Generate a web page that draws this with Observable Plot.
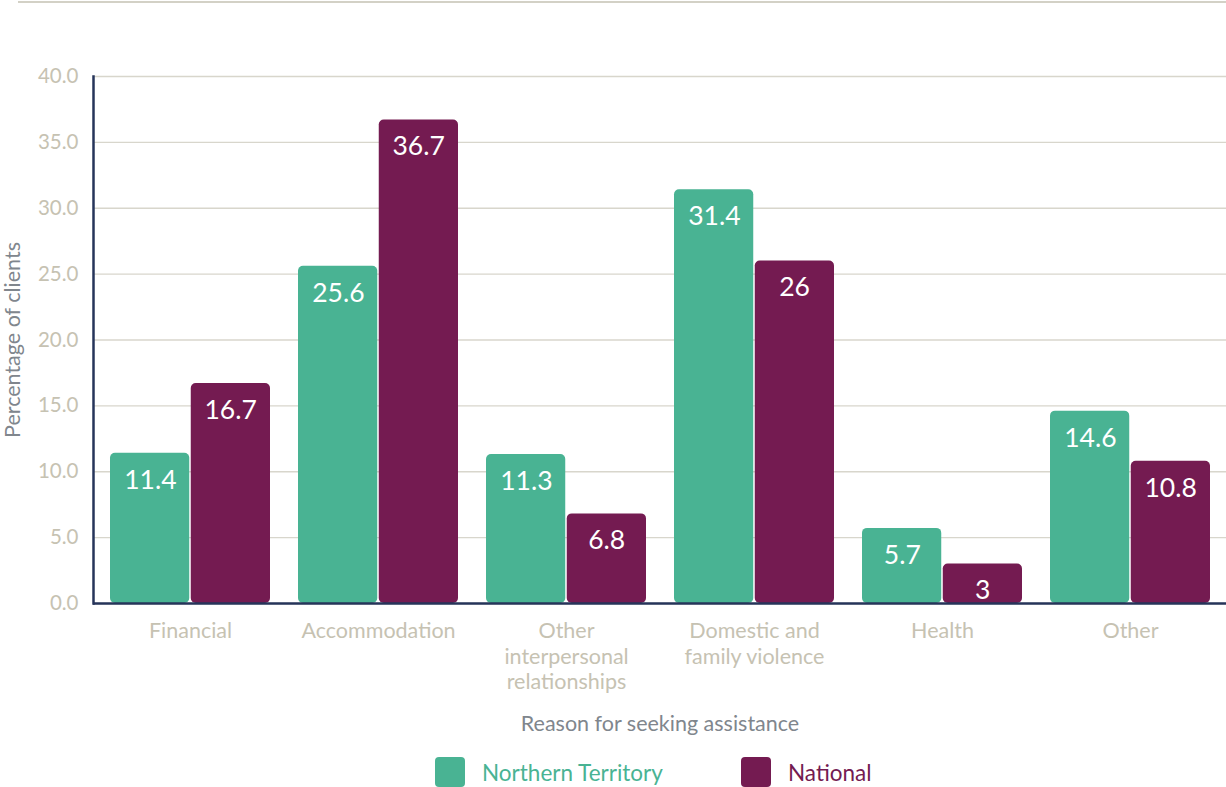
<!DOCTYPE html>
<html><head><meta charset="utf-8">
<script src="https://cdn.jsdelivr.net/npm/d3@7"></script>
<script src="https://cdn.jsdelivr.net/npm/@observablehq/plot@0.6"></script>
<style>
body{margin:0;background:#fff;font-family:Lato,sans-serif;}
#wrap{position:relative;width:1226px;height:787px;overflow:hidden;background:#fff}
#topline{position:absolute;left:18px;right:0;top:1px;height:2px;background:#d3d1c6}
#chart{position:absolute;left:0;top:0}
.item{position:absolute;top:757px;height:30px;display:flex;align-items:center;font-size:22.5px;font-family:Lato,sans-serif}
.sw{width:30px;height:30px;border-radius:4px;margin-right:17px;flex:none}
</style></head><body>
<div id="wrap"><div id="chart"></div><div id="topline"></div></div>
<script>
const categories = ["Financial","Accommodation","Other interpersonal relationships","Domestic and family violence","Health","Other"];
const tickLabels = ["Financial","Accommodation","Other\ninterpersonal\nrelationships","Domestic and\nfamily violence","Health","Other"];
const seriesNames = ["Northern Territory","National"];
const ntValues = [11.4,25.6,11.3,31.4,5.7,14.6];
const nationalValues = [16.7,36.7,6.8,26,3,10.8];
const yTicks = [0,5,10,15,20,25,30,35,40];
const colors = ["#49b393","#741b51"];

const data = [];
categories.forEach((c,i)=>{
  data.push({category:c, series:seriesNames[0], value:ntValues[i]});
  data.push({category:c, series:seriesNames[1], value:nationalValues[i]});
});
const ntData = data.filter(d=>d.series===seriesNames[0]);
const natData = data.filter(d=>d.series===seriesNames[1]);

const W=1226,H=745,mL=93,mR=0,mT=76,mB=142;
const pad=0.15;
const step=(W-mL-mR)/categories.length;
const half=step*(1-pad)/2;
const navy="#26345a", tickCol="#c6c2b2", gridCol="#d8d6cc", titleCol="#80868d";

const chart = Plot.plot({
  width:W,height:H,marginLeft:mL,marginRight:mR,marginTop:mT,marginBottom:mB,
  style:{fontFamily:"Lato, sans-serif",background:"#fff"},
  x:{domain:categories,paddingInner:pad,paddingOuter:pad/2},
  y:{domain:[0,40]},
  color:{domain:seriesNames,range:colors},
  marks:[
    Plot.gridY(yTicks,{stroke:gridCol,strokeOpacity:1,strokeWidth:1.3}),
    Plot.barY(ntData,{x:"category",y:"value",fill:"series",insetRight:half+0.5,rx:5}),
    Plot.barY(natData,{x:"category",y:"value",fill:"series",insetLeft:half+0.5,rx:5}),
    Plot.ruleY([0],{stroke:navy,strokeWidth:2.5}),
    Plot.frame({anchor:"left",stroke:navy,strokeWidth:2.5}),
    Plot.text(ntData,{x:"category",y:"value",text:d=>String(d.value),dx:-half/2,dy:27,fill:"#fff",fontSize:26.5}),
    Plot.text(natData,{x:"category",y:"value",text:d=>String(d.value),dx:half/2,dy:27,fill:"#fff",fontSize:26.5}),
    Plot.axisY({ticks:yTicks,tickFormat:d=>d.toFixed(1),tickSize:0,tickPadding:15,fontSize:20.5,fill:tickCol,
      label:"Percentage of clients",labelArrow:false,labelAnchor:"center",labelOffset:89}),
    Plot.axisX({tickSize:0,tickPadding:17,fontSize:21.5,lineHeight:1.17,fill:tickCol,
      tickFormat:d=>tickLabels[categories.indexOf(d)],
      label:"Reason for seeking assistance",labelArrow:false,labelAnchor:"center",labelOffset:127})
  ]
});
document.getElementById("chart").appendChild(chart);
const svg=d3.select(chart);
svg.selectAll('g[aria-label="y-axis label"] text, g[aria-label="x-axis label"] text')
  .attr("fill",titleCol).style("font-size","21.5px")
  .each(function(){ this.textContent=this.textContent.replace(/[\u2190-\u2193]/g,"").trim(); });

const wrap=document.getElementById("wrap");
const legendPos=[{sw:435},{sw:741}];
seriesNames.forEach((s,i)=>{
  const it=document.createElement("div");
  it.className="item";
  it.style.left=legendPos[i].sw+"px";
  it.style.color=colors[i];
  const sw=document.createElement("div");
  sw.className="sw";sw.style.background=colors[i];
  it.appendChild(sw);
  const t=document.createElement("span");t.textContent=s;
  it.appendChild(t);
  wrap.appendChild(it);
});
</script>
</body></html>
